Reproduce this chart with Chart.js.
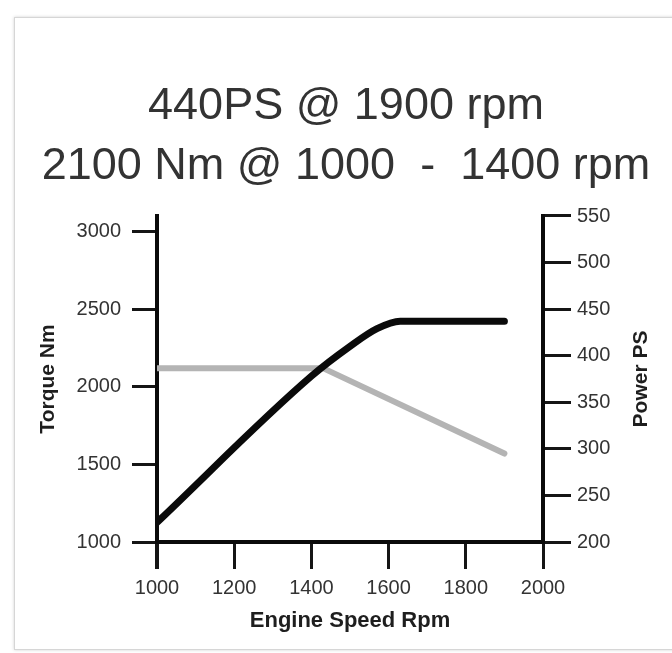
<!DOCTYPE html>
<html>
<head>
<meta charset="utf-8">
<script src="https://cdn.jsdelivr.net/npm/chart.js@4"></script>
<style>
  body { margin: 0; background: #fff; }
  #wrap { position: relative; width: 672px; height: 653px; overflow: hidden; }
  #frame { position: absolute; left: 14px; top: 17px; width: 700px; height: 631px;
           border: 1px solid #d6d6d6; box-shadow: 0 0 3px rgba(0,0,0,0.18); }
  canvas { position: absolute; left: 0; top: 0; }
</style>
</head>
<body>
<div id="wrap">
  <div id="frame"></div>
  <canvas id="chart" width="672" height="653"></canvas>
</div>
<script>
// engine speed (rpm) -> power (PS), black line, right axis
const powerRpm = [1000, 1400, 1500, 1570, 1630, 1900];
const powerPS = [221, 378, 410, 429, 437, 437];

// engine speed (rpm) -> torque (Nm), grey line, left axis
const torqueRpm = [1000, 1430, 1900];
const torqueNm = [2120, 2120, 1570];

const rpmTicks = [1000, 1200, 1400, 1600, 1800, 2000];
const torqueTicks = [1000, 1500, 2000, 2500, 3000];
const powerTicks = [200, 250, 300, 350, 400, 450, 500, 550];

const titleLines = ['440PS @ 1900 rpm', '2100 Nm @ 1000  -  1400 rpm'];

const tickFont = { family: 'Liberation Sans, Arial, sans-serif', size: 20 };
const axisTitleFont = { family: 'Liberation Sans, Arial, sans-serif', size: 21, weight: 'bold' };

const edgeWidth = ctx => (ctx.index === 0 ? 4 : 3);

// right axis title reads bottom-to-top like the left one
const rightTitle = {
    id: 'rightTitle',
    afterDraw(chart) {
        const ctx = chart.ctx;
        ctx.save();
        ctx.translate(641, 379);
        ctx.rotate(-Math.PI / 2);
        ctx.font = 'bold 21px Liberation Sans, Arial, sans-serif';
        ctx.fillStyle = '#1e1e1e';
        ctx.textAlign = 'center';
        ctx.textBaseline = 'middle';
        ctx.fillText('Power PS', 0, 0);
        ctx.restore();
    }
};

new Chart(document.getElementById('chart'), {
    type: 'line',
    data: {
        datasets: [
            {
                label: 'Power PS',
                data: powerRpm.map((r, i) => ({ x: r, y: powerPS[i] })),
                yAxisID: 'yPower',
                borderColor: '#0a0a0a',
                borderWidth: 7,
                borderCapStyle: 'round',
                cubicInterpolationMode: 'monotone',
                pointRadius: 0,
                order: 0,
            },
            {
                label: 'Torque Nm',
                data: torqueRpm.map((r, i) => ({ x: r, y: torqueNm[i] })),
                yAxisID: 'yTorque',
                borderColor: '#b4b4b4',
                borderWidth: 6,
                borderCapStyle: 'round',
                pointRadius: 0,
                order: 1,
            }
        ]
    },
    options: {
        responsive: false,
        animation: false,
        layout: { padding: { left: 20, right: 0, top: 0, bottom: 0 } },
        plugins: {
            legend: { display: false },
            tooltip: { enabled: false },
            title: {
                display: true,
                text: titleLines,
                color: '#333',
                font: { family: 'Liberation Sans, Arial, sans-serif', size: 45, weight: 'normal', lineHeight: 1.3333 },
                padding: { top: 77, bottom: 19 },
            }
        },
        scales: {
            x: {
                type: 'linear',
                min: 1000,
                max: 2000,
                afterBuildTicks: s => { s.ticks = rpmTicks.map(v => ({ value: v })); },
                afterFit: s => { s.height = 111; },
                ticks: { color: '#333', font: tickFont, padding: 7, callback: v => String(v) },
                grid: { drawOnChartArea: false, drawTicks: true, tickLength: 27, lineWidth: edgeWidth, color: '#151515' },
                border: { display: true, width: 4, color: '#0a0a0a' },
                title: { display: true, text: 'Engine Speed Rpm', color: '#1e1e1e',
                         font: { family: 'Liberation Sans, Arial, sans-serif', size: 22, weight: 'bold' },
                         padding: { top: 0, bottom: 19 } },
            },
            yTorque: {
                type: 'linear',
                position: 'left',
                min: 1000,
                max: 3100,
                afterBuildTicks: s => { s.ticks = torqueTicks.map(v => ({ value: v })); },
                afterFit: s => { s.width = 137; },
                ticks: { color: '#333', font: tickFont, padding: 11, callback: v => String(v) },
                grid: { drawOnChartArea: false, drawTicks: true, tickLength: 25, lineWidth: 3, color: '#151515' },
                border: { display: true, width: 4, color: '#0a0a0a' },
                title: { display: true, text: 'Torque Nm', color: '#1e1e1e', font: axisTitleFont,
                         padding: { top: 16, bottom: 0 } },
            },
            yPower: {
                type: 'linear',
                position: 'right',
                min: 200,
                max: 550,
                afterBuildTicks: s => { s.ticks = powerTicks.map(v => ({ value: v })); },
                afterFit: s => { s.width = 129; },
                ticks: { color: '#333', font: tickFont, padding: 6, callback: v => String(v) },
                grid: { drawOnChartArea: false, drawTicks: true, tickLength: 28, lineWidth: 3, color: '#151515' },
                border: { display: true, width: 4, color: '#0a0a0a' },
            }
        }
    },
    plugins: [rightTitle]
});
</script>
</body>
</html>
